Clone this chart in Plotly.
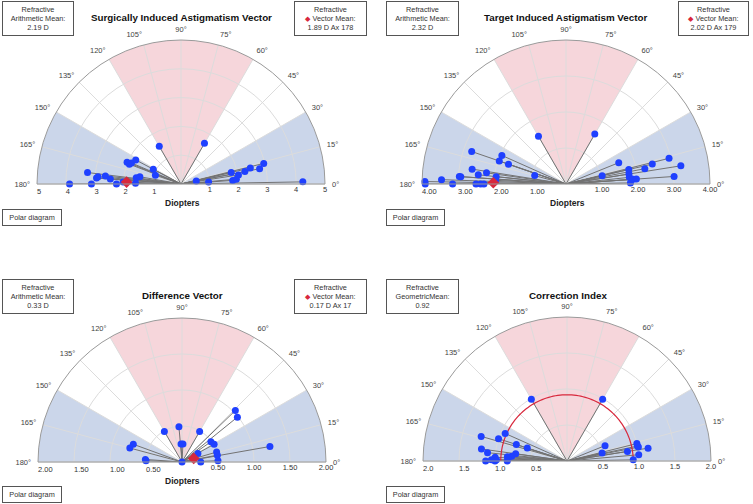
import plotly.graph_objects as go

W, H = 753, 504

# ---- data (r in diopters / index, theta in degrees) ----
sia_r = [4.23, 0.54, 0.96, 1.79, 2.02, 1.80, 1.93, 2.26, 2.47, 2.78, 2.96, 1.63,
         1.51, 3.87, 3.11, 2.24, 2.01, 1.58, 3.27, 2.94, 2.89, 2.64, 2.46, 1.57,
         1.45, 2.02, 1.92, 1.87, 1.78, 1.09, 0.94]
sia_theta = [1, 11, 4, 13, 9, 4, 5, 11, 13, 11, 14, 60,
             120, 180, 180, 180, 178, 179, 173, 176, 175, 174, 176, 172,
             170, 158, 159, 157, 152, 152, 161]

tia_r = [1.60, 1.03, 1.58, 1.79, 1.77, 1.77, 1.79, 1.87, 1.96, 2.23, 2.46, 2.95,
         3.01, 3.23, 1.53, 0.90, 1.69, 1.96, 1.95, 2.77, 2.64, 2.45, 2.23, 1.95,
         1.96, 2.97, 2.93, 3.46, 3.92, 3.91, 3.15, 2.50, 2.37, 2.28]
tia_theta = [60, 13, 22, 13, 9, 6, 1, 4, 4, 11, 13, 14,
             4, 9, 120, 165, 161, 161, 156, 161, 171, 174, 172, 174,
             177, 176, 176, 178, 179, 180, 180, 180, 180, 180]

dv_r = [0.0, 0.49, 0.49, 0.49, 0.25, 0.25, 1.03, 0.99, 0.49, 0.51, 0.25, 0.50,
        0.50, 0.50, 0.26, 1.24, 0.72, 0.75, 0.51, 0.50]
dv_theta = [90, 95, 120, 60, 93, 87, 44, 39, 35, 29, 28, 16,
            11, 2, 0, 10, 160, 165, 176, 178]

ci_r = [0.99, 0.99, 0.57, 0.50, 0.85, 1.00, 1.00, 1.01, 1.14, 1.00, 0.92,
        1.24, 1.20, 1.11, 1.00, 0.94, 0.74, 0.58, 0.72, 0.77, 0.83, 0.82,
        0.83, 1.00, 0.98, 1.05, 1.13, 1.00]
ci_theta = [120, 60, 22, 13, 9, 14, 12, 11, 9, 5, 1,
            164, 172, 174, 162, 156, 162, 162, 172, 175, 176, 178,
            180, 177, 179, 179, 180, 180]

sia_mean = (1.89, 178)
tia_mean = (2.02, 179)
dv_mean = (0.17, 17)
ci_geo_mean = 0.92

# shaded zones: centre angle, width, colour
zone_theta = [15, 165, 90]
zone_width = [30, 30, 60]
zone_colors = ['#cbd6ea', '#cbd6ea', '#f6d6db']

titles = ['Surgically Induced Astigmatism Vector', 'Target Induced Astigmatism Vector',
          'Difference Vector', 'Correction Index']
r_max = [5, 4, 2, 2]
r_ticks = [[1, 2, 3, 4, 5], [1, 2, 3, 4], [0.5, 1, 1.5, 2], [0.5, 1, 1.5, 2]]
r_fmt = ['d', '.2f', '.2f', '.1f']

# panel centres / radius in pixels
centers = [(181, 184), (566, 184), (182, 462), (567, 461)]
RAD = 144

FONT = 'Liberation Sans'
BLUE = '#1f40ff'
RED = '#d8283c'


def px(x):
    return x / W


def py(y):
    return 1 - y / H


fig = go.Figure()
layout = {}

panels = [(sia_r, sia_theta), (tia_r, tia_theta), (dv_r, dv_theta), (ci_r, ci_theta)]

for i, (rr, tt) in enumerate(panels):
    cx, cy = centers[i]
    dom = dict(x=[px(cx - RAD), px(cx + RAD)], y=[py(cy), py(cy - RAD)])
    na, nb, nc = 3 * i + 1, 3 * i + 2, 3 * i + 3
    sa, sb, sc = [f'polar{n}' if n > 1 else 'polar' for n in (na, nb, nc)]

    # bottom layer: shaded zones
    fig.add_trace(go.Barpolar(r=[r_max[i]] * 3, theta=zone_theta, width=zone_width,
                              base=0, marker=dict(color=zone_colors, line=dict(width=0)),
                              hoverinfo='skip', showlegend=False, subplot=sa))

    # spokes from origin to each point
    lr, lt = [], []
    for r, t in zip(rr, tt):
        lr += [0, r, None]
        lt += [t, t, None]
    fig.add_trace(go.Scatterpolar(r=lr, theta=lt, mode='lines',
                                  line=dict(color='#727272', width=1),
                                  hoverinfo='skip', showlegend=False, subplot=sb))
    if i == 3:
        arc_t = list(range(0, 181, 2))
        fig.add_trace(go.Scatterpolar(r=[ci_geo_mean] * len(arc_t), theta=arc_t, mode='lines',
                                      line=dict(color=RED, width=1.2),
                                      hoverinfo='skip', showlegend=False, subplot=sb))
    fig.add_trace(go.Scatterpolar(r=rr, theta=tt, mode='markers', cliponaxis=False,
                                  marker=dict(color=BLUE, size=7),
                                  showlegend=False, subplot=sb))
    if i < 3:
        m = [sia_mean, tia_mean, dv_mean][i]
        fig.add_trace(go.Scatterpolar(r=[m[0]], theta=[m[1]], mode='markers', cliponaxis=False,
                                      marker=dict(color=RED, size=9, symbol='diamond'),
                                      showlegend=False, subplot=sb))
    # empty trace so the left-hand radial axis gets drawn
    fig.add_trace(go.Scatterpolar(r=[], theta=[], subplot=sc, showlegend=False))

    common_radial = dict(range=[0, r_max[i]], tickvals=r_ticks[i], tickformat=r_fmt[i],
                         showline=False, ticks='',
                         tickfont=dict(size=7.5, color='#333', family=FONT))
    layout[sa] = dict(domain=dom, sector=[0, 180], bgcolor='white',
                      radialaxis=dict(range=[0, r_max[i]], visible=False),
                      angularaxis=dict(visible=False, direction='counterclockwise', rotation=0))
    layout[sb] = dict(domain=dom, sector=[0, 180], bgcolor='rgba(0,0,0,0)',
                      radialaxis=dict(**common_radial, angle=0, side='clockwise',
                                      showgrid=True, gridcolor='#dcdcdc', gridwidth=1),
                      angularaxis=dict(direction='counterclockwise', rotation=0, dtick=15,
                                       showgrid=True, gridcolor='#dcdcdc',
                                       ticks='outside', ticklen=5, tickcolor='rgba(0,0,0,0)',
                                       showline=True, linecolor='#9a9a9a', linewidth=1,
                                       tickfont=dict(size=7.5, color='#444', family=FONT)))
    layout[sc] = dict(domain=dom, sector=[0, 180], bgcolor='rgba(0,0,0,0)',
                      radialaxis=dict(**common_radial, angle=180, side='counterclockwise',
                                      tickangle=180, showgrid=False),
                      angularaxis=dict(visible=False, direction='counterclockwise', rotation=0))

ann = []
# titles
title_pos = [(181, 18), (566, 18), (182, 295), (568, 295)]
for t, (x, y) in zip(titles, title_pos):
    ann.append(dict(text=f'<b>{t}</b>', x=px(x), y=py(y), xref='paper', yref='paper',
                    xanchor='center', yanchor='middle', showarrow=False,
                    font=dict(size=9.8, color='#111', family=FONT)))
# Diopters labels
for x, y in [(182, 203), (567, 203), (182, 481)]:
    ann.append(dict(text='<b>Diopters</b>', x=px(x), y=py(y), xref='paper', yref='paper',
                    xanchor='center', yanchor='middle', showarrow=False,
                    font=dict(size=8.5, color='#222', family=FONT)))


def box(text, x0, y0, x1, y1, size=7.3):
    return dict(text=text, x=px(x0), y=py(y0), xref='paper', yref='paper',
                xanchor='left', yanchor='top', showarrow=False, align='center',
                width=x1 - x0 - 2, height=y1 - y0 - 2, borderpad=0,
                bordercolor='#555', borderwidth=1,
                font=dict(size=size, color='#333', family=FONT))


dia = f'<span style="color:{RED}">◆</span> '
ann += [
    box('Refractive<br>Arithmetic Mean:<br>2.19 D', 2, 1, 74, 36),
    box(f'Refractive<br>{dia}Vector Mean:<br>1.89 D Ax 178', 294, 1, 367, 36),
    box('Refractive<br>Arithmetic Mean:<br>2.32 D', 386, 1, 459, 36),
    box(f'Refractive<br>{dia}Vector Mean:<br>2.02 D Ax 179', 678, 1, 749, 36),
    box('Refractive<br>Arithmetic Mean:<br>0.33 D', 2, 279, 74, 314),
    box(f'Refractive<br>{dia}Vector Mean:<br>0.17 D Ax 17', 294, 279, 367, 314),
    box('Refractive<br>GeometricMean:<br>0.92', 386, 279, 459, 314),
    box('Polar diagram', 2, 209, 62, 226),
    box('Polar diagram', 386, 209, 445, 226),
    box('Polar diagram', 2, 486, 62, 503),
    box('Polar diagram', 386, 486, 445, 503),
]

fig.update_layout(width=W, height=H, margin=dict(l=0, r=0, t=0, b=0),
                  paper_bgcolor='white', annotations=ann, showlegend=False,
                  font=dict(family=FONT), **layout)

fig.write_html('out.html', config={'displayModeBar': False},
               post_script="document.body.style.margin='0';")
